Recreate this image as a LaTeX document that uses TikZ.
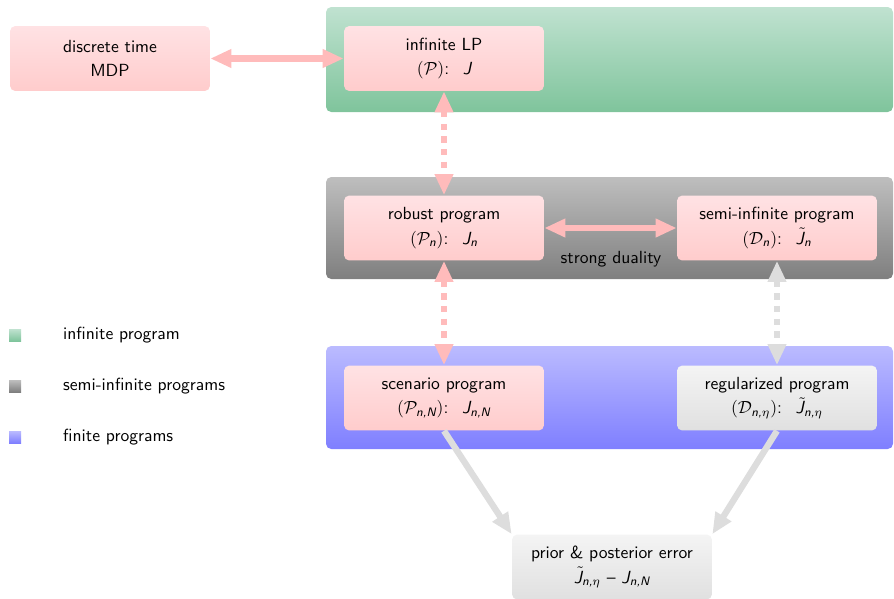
\documentclass[tikz,border=0pt]{standalone}
\usepackage{amssymb}
\usepackage{amsmath}
\usetikzlibrary{arrows.meta,positioning}

\definecolor{pinktop}{HTML}{FFE2E4}
\definecolor{pinkbot}{HTML}{FFCCCC}
\definecolor{greytop}{HTML}{F4F4F4}
\definecolor{greybot}{HTML}{E0E0E0}
\definecolor{infgreentop}{HTML}{C0E2D0}
\definecolor{infgreenbot}{HTML}{7FC49C}
\definecolor{semigreytop}{HTML}{BEBEBE}
\definecolor{semigreybot}{HTML}{7F7F7F}
\definecolor{finbluetop}{HTML}{BBBBFF}
\definecolor{finbluebot}{HTML}{7F7FFF}
\definecolor{linkpink}{HTML}{FFBBBB}
\definecolor{linkgrey}{HTML}{DDDDDD}

% sans slanted letters in math
\newcommand{\sfv}[1]{\text{\sffamily\slshape #1}}
\newcommand{\Jt}{\skew{5}{\tilde}{\sfv{J}}}

\tikzset{
  prog/.style={rectangle, rounded corners=3pt, minimum width=4cm, minimum height=1.3cm,
    align=center, top color=pinktop, bottom color=pinkbot, font=\sffamily},
  relaxed/.style={prog, top color=greytop, bottom color=greybot},
  equiv/.style={line width=3.6pt, draw=linkpink,
    {Triangle[length=12pt,width=10pt]}-{Triangle[length=12pt,width=10pt]}},
  approx/.style={equiv, dash pattern=on 3.6pt off 3.6pt},
  dualapprox/.style={approx, draw=linkgrey},
  bound/.style={line width=3.6pt, draw=linkgrey, -{Triangle[length=12pt,width=10pt]}},
  legtext/.style={anchor=west, font=\sffamily}
}

\begin{document}
\begin{tikzpicture}[x=0.02cm,y=-0.02cm]
  \useasboundingbox (0,0) rectangle (894,599);
  % bands
  \shade[rounded corners=3pt, top color=infgreentop, bottom color=infgreenbot] (326,7) rectangle (893,112);
  \shade[rounded corners=3pt, top color=semigreytop, bottom color=semigreybot] (326,177) rectangle (893,279);
  \shade[rounded corners=3pt, top color=finbluetop, bottom color=finbluebot] (326,346) rectangle (893,449);
  % legend
  \shade[top color=infgreentop, bottom color=infgreenbot] (9,329) rectangle (21,341);
  \shade[top color=semigreytop, bottom color=semigreybot] (9,380) rectangle (21,392);
  \shade[top color=finbluetop, bottom color=finbluebot] (9,431) rectangle (21,443);
  \node[legtext] (leginf) at (57,335) {infinite program};
  \node[legtext] (legsemi) at (57,386) {semi-infinite programs};
  \node[legtext] (legfin) at (57,437) {finite programs};
  % programs
  \node[prog] (mdp) at (110,58.5) {discrete time\\[2pt]MDP};
  \node[prog] (lp) at (444,58.5) {infinite LP\\[2pt]$(\mathcal{P})$: \ $\sfv{J}$};
  \node[prog] (robust) at (444,228) {robust program\\[2pt]$(\mathcal{P}_{\sfv{n}})$: \ $\sfv{J}_{\sfv{n}}$};
  \node[prog] (semi) at (777,228) {semi-infinite program\\[2pt]$(\mathcal{D}_{\sfv{n}})$: \ $\Jt_{\sfv{n}}$};
  \node[prog] (scen) at (444,398) {scenario program\\[2pt]$(\mathcal{P}_{\sfv{n,N}})$: \ $\sfv{J}_{\sfv{n,N}}$};
  \node[relaxed] (reg) at (777,398) {regularized program\\[2pt]$(\mathcal{D}_{\sfv{n,}\eta})$: \ $\Jt_{\sfv{n,}\eta}$};
  \node[relaxed] (err) at (612,567) {prior \& posterior error\\[2pt]$\Jt_{\sfv{n,}\eta}$ -- $\sfv{J}_{\sfv{n,N}}$};
  \node[font=\sffamily] (sd) at (611,259) {strong duality};
  % links
  \draw[equiv] (mdp) -- (lp);
  \draw[equiv] (robust) -- (semi);
  \draw[approx] (lp) -- (robust);
  \draw[approx] (robust) -- (scen);
  \draw[dualapprox] (semi) -- (reg);
  \draw[bound] (scen.south) -- (err.north west);
  \draw[bound] (reg.south) -- (err.north east);
\end{tikzpicture}
\end{document}
